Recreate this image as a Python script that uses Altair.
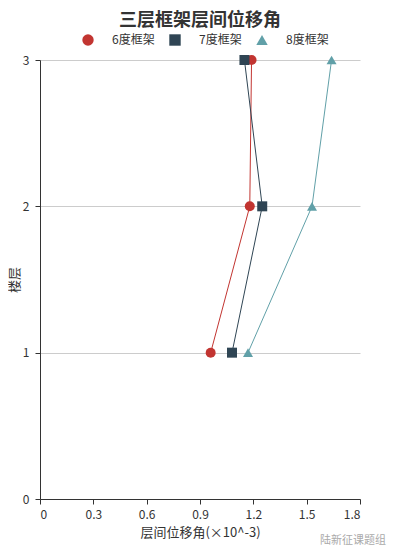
import altair as alt
import pandas as pd

floors = [1, 2, 3]
series_names = ["6度框架", "7度框架", "8度框架"]
drift_6 = [0.96, 1.18, 1.19]
drift_7 = [1.08, 1.25, 1.15]
drift_8 = [1.17, 1.53, 1.64]
x_ticks = [0, 0.3, 0.6, 0.9, 1.2, 1.5, 1.8]
y_ticks = [0, 1, 2, 3]
colors = ["#c23531", "#2f4554", "#61a0a8"]
shapes = ["circle", "square", "triangle-up"]

rows = []
for name, vals in zip(series_names, [drift_6, drift_7, drift_8]):
    for f, v in zip(floors, vals):
        rows.append({"series": name, "floor": f, "drift": v})
df = pd.DataFrame(rows)

FONT = "Noto Sans CJK SC"

xenc = alt.X("drift:Q", scale=alt.Scale(domain=[0, 1.8], nice=False),
             axis=alt.Axis(values=x_ticks, title="层间位移角(×10^-3)", grid=False,
                           labelFontSize=12, titleFontSize=13, titleFontWeight="normal",
                           labelColor="#333", titleColor="#333", domainColor="#333",
                           tickColor="#333", labelPadding=5, titlePadding=6,
                           labelFont=FONT, titleFont=FONT, format=".1~f"))
yenc = alt.Y("floor:Q", scale=alt.Scale(domain=[0, 3], nice=False),
             axis=alt.Axis(values=y_ticks, title="楼层", grid=True, gridColor="#ccc",
                           labelFontSize=12, titleFontSize=13, titleFontWeight="normal",
                           labelColor="#333", titleColor="#333", domainColor="#333",
                           tickColor="#333", labelPadding=6, titlePadding=1,
                           labelFont=FONT, titleFont=FONT, format="d"))
color = alt.Color("series:N", scale=alt.Scale(domain=series_names, range=colors),
                  legend=alt.Legend(title=None, orient="none", direction="horizontal",
                                    legendX=42, legendY=-26, labelFontSize=12,
                                    labelColor="#333", labelFont=FONT, symbolSize=130,
                                    labelOffset=18, columnPadding=14, symbolStrokeWidth=0))

base = alt.Chart(df)
lines = base.mark_line(strokeWidth=1).encode(x=xenc, y=yenc, color=color, order="floor:Q",
                                            detail="series:N")
points = base.mark_point(filled=True, size=100, opacity=1).encode(
    x=xenc, y=yenc, color=color,
    shape=alt.Shape("series:N", scale=alt.Scale(domain=series_names, range=shapes)))

wm = alt.Chart(pd.DataFrame({"t": ["陆新征课题组"]})).mark_text(
    fontSize=11, color="#aaa", font=FONT, align="right", baseline="middle"
).encode(text="t:N", x=alt.value(346), y=alt.value(481))

chart = alt.layer(lines, points, wm).properties(
    width=320, height=439,
    autosize=alt.AutoSizeParams(type="none"),
    padding={"left": 32, "top": 52, "right": 32, "bottom": 52},
    title=alt.TitleParams("三层框架层间位移角", fontSize=18, fontWeight="bold", color="#333",
                          font=FONT, anchor="middle", offset=4),
).configure_view(stroke=None)

chart.save("out.html", embed_options={"renderer": "svg", "actions": False})
